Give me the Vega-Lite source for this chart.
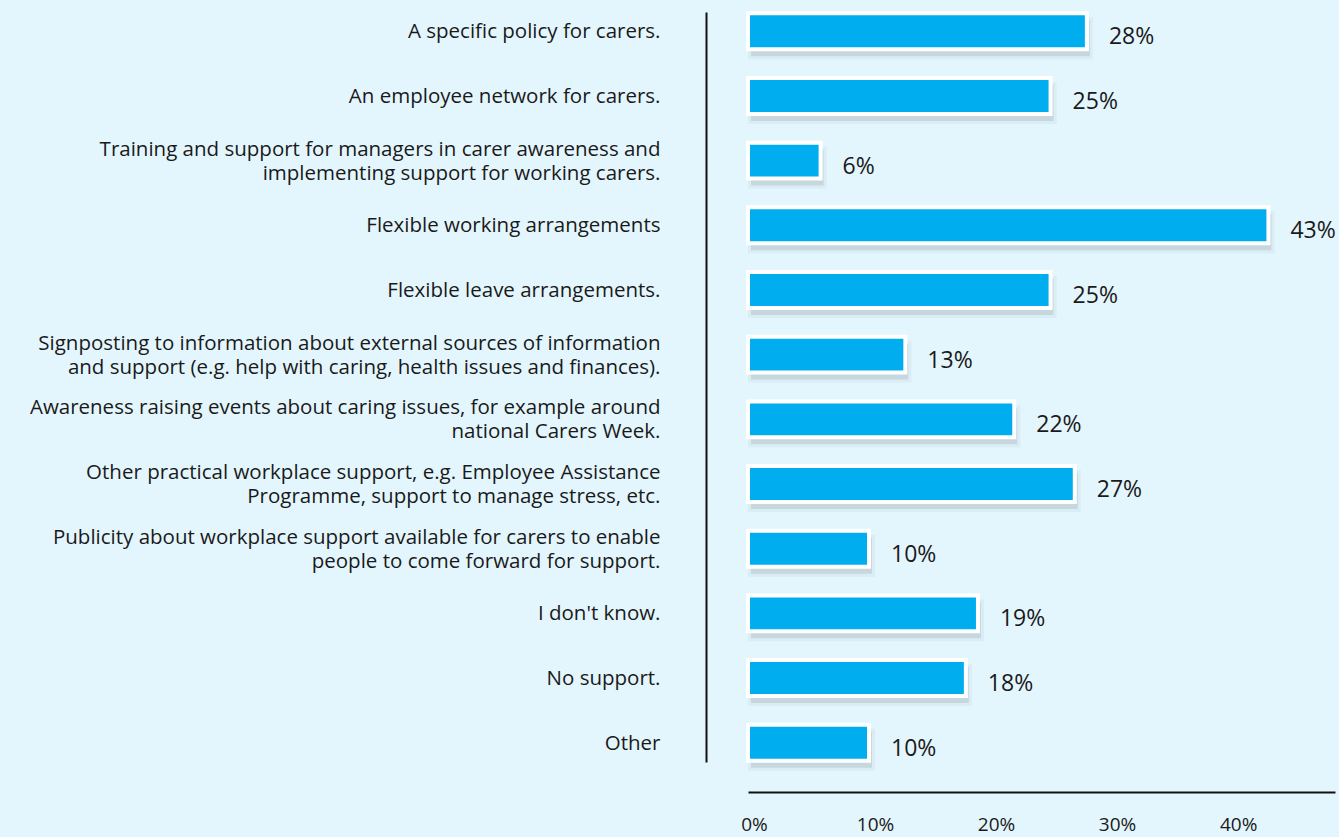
{
  "$schema": "https://vega.github.io/schema/vega-lite/v6.json",
  "width": 587,
  "height": 750,
  "autosize": {"type": "none"},
  "padding": {"left": 748, "top": 12, "right": 4, "bottom": 75},
  "background": "#e4f6fd",
  "config": {"view": {"stroke": null}, "font": "Open Sans"},
  "data": {
    "values": [
      {"label": "A specific policy for carers.", "value": 28},
      {"label": "An employee network for carers.", "value": 25},
      {"label": "Training and support for managers in carer awareness and|implementing support for working carers.", "value": 6},
      {"label": "Flexible working arrangements", "value": 43},
      {"label": "Flexible leave arrangements.", "value": 25},
      {"label": "Signposting to information about external sources of information|and support (e.g. help with caring, health issues and finances).", "value": 13},
      {"label": "Awareness raising events about caring issues, for example around|national Carers Week.", "value": 22},
      {"label": "Other practical workplace support, e.g. Employee Assistance|Programme, support to manage stress, etc.", "value": 27},
      {"label": "Publicity about workplace support available for carers to enable|people to come forward for support.", "value": 10},
      {"label": "I don't know.", "value": 19},
      {"label": "No support.", "value": 18},
      {"label": "Other", "value": 10}
    ]
  },
  "transform": [{"calculate": "datum.value + '%'", "as": "pct"}],
  "encoding": {
    "y": {
      "field": "label",
      "type": "nominal",
      "sort": null,
      "scale": {"paddingInner": 0.445, "paddingOuter": 0.02},
      "axis": {
        "title": null,
        "orient": "left",
        "offset": 42,
        "domainColor": "#111111",
        "domainWidth": 2,
        "ticks": false,
        "labelPadding": 46,
        "labelFontSize": 20.5,
        "labelColor": "#1a1a1a",
        "labelLimit": 800,
        "labelLineHeight": 24,
        "labelOffset": {"condition": {"test": "indexof(datum.value, '|') >= 0", "value": -11}, "value": 1},
        "labelExpr": "split(datum.label, '|')"
      }
    },
    "x": {
      "field": "value",
      "type": "quantitative",
      "scale": {"domain": [0, 48.5], "nice": false},
      "axis": {
        "title": null,
        "values": [0, 10, 20, 30, 40],
        "offset": 30,
        "domainColor": "#111111",
        "domainWidth": 2,
        "ticks": false,
        "grid": false,
        "labelFlush": false,
        "labelPadding": 23,
        "labelOffset": 6,
        "labelFontSize": 19,
        "labelColor": "#1a1a1a",
        "labelExpr": "datum.value + '%'"
      }
    }
  },
  "layer": [
    {
      "mark": {"type": "bar", "color": "#6f7f86", "opacity": 0.25, "xOffset": 3, "yOffset": 7, "stroke": "#6f7f86", "strokeWidth": 6, "strokeOpacity": 0.28}
    },
    {
      "mark": {"type": "bar", "color": "#00aeef", "stroke": "#ffffff", "strokeWidth": 4}
    },
    {
      "mark": {"type": "text", "align": "left", "baseline": "middle", "dx": 22, "dy": 6, "fontSize": 23, "color": "#1a1a1a"},
      "encoding": {"text": {"field": "pct", "type": "nominal"}}
    }
  ]
}
